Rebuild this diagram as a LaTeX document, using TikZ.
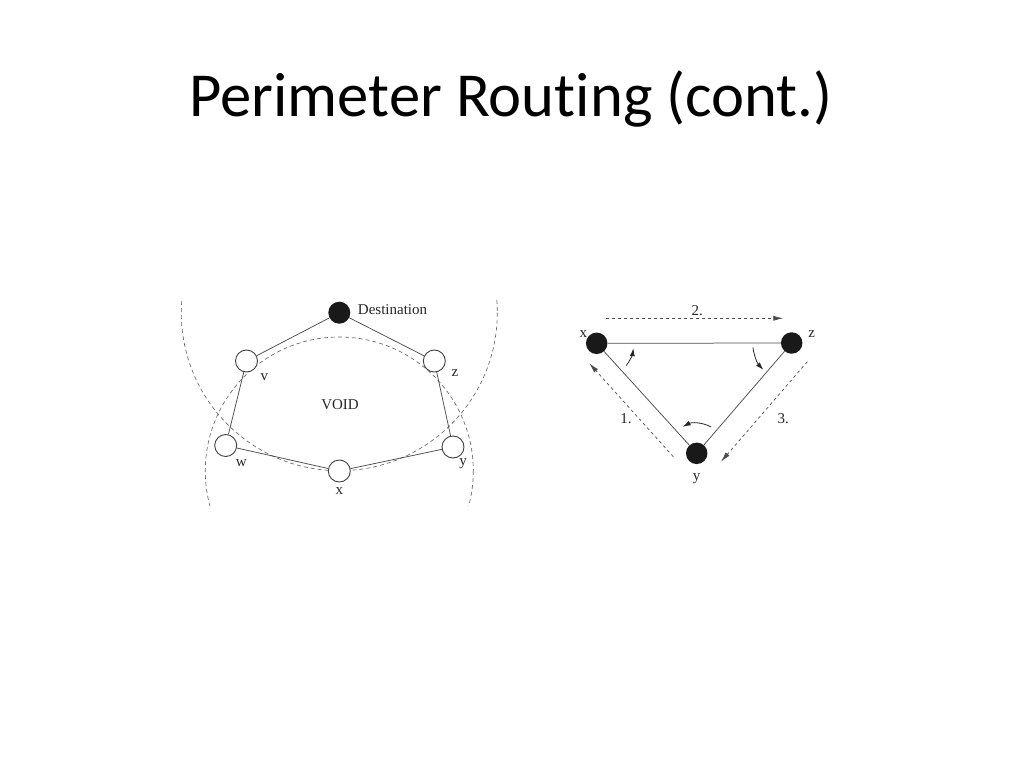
\documentclass[tikz,border=0pt]{standalone}
\usepackage{fontspec}
\setmainfont{Liberation Serif}
\newfontfamily\titlefont[Ligatures=NoCommon,Contextuals=NoAlternate]{Carlito}
\usetikzlibrary{arrows.meta,backgrounds}

\begin{document}
\begin{tikzpicture}[x=1pt,y=-1pt,
    vtx/.style={circle,draw=black!75,fill=white,line width=0.9pt,minimum size=22pt,inner sep=0pt},
    fvtx/.style={circle,fill=black!90,minimum size=21.5pt,inner sep=0pt},
    lbl/.style={font=\fontsize{15}{15}\selectfont,text=black!85,inner sep=0pt},
    link/.style={draw=black!70,line width=0.75pt},
    bound/.style={draw=black!60,line width=0.65pt,dash pattern=on 4pt off 3pt},
    move/.style={draw=black!70,line width=0.7pt,dash pattern=on 3pt off 3pt,-{Latex[length=10pt,width=5pt]}},
    turn/.style={draw=black!85,line width=0.8pt,-{Latex[length=8pt,width=5pt]}}]
  \useasboundingbox (0,0) rectangle (1024,768);

  \node[font=\titlefont\fontsize{62.6}{62.6}\selectfont,anchor=base] (title) at (511,116.7) {Perimeter Rout\kern0pt ing (cont.)};

  % the void
  \node[fvtx,minimum size=22pt] (dest) at (339.3,312.7) {};
  \node[vtx] (v) at (246.5,361) {};
  \node[vtx] (z) at (434.3,361) {};
  \node[vtx] (w) at (225.7,445.5) {};
  \node[vtx] (y) at (453,447) {};
  \node[vtx] (x) at (339.3,471) {};
  \begin{scope}[on background layer]
    \clip (150,298) rectangle (520,505);
    \draw[bound] (dest.center) circle[radius=158];
    \draw[bound] (x.center) circle[radius=134];
  \end{scope}
  \draw[link] (dest) -- (v) -- (w) -- (x) -- (y) -- (z) -- (dest);
  \node[lbl] (destlab) at (392.5,309.7) {Destination};
  \node[lbl] (voidlab) at (340,405) {VOID};
  \node[lbl] (vlab) at (264.3,377) {v};
  \node[lbl] (zlab) at (455,373.3) {z};
  \node[lbl] (wlab) at (241.3,463.5) {w};
  \node[lbl] (ylab) at (463,463.5) {y};
  \node[lbl] (xlab) at (339.3,491) {x};

  % right hand rule
  \node[fvtx] (rx) at (596.7,343.3) {};
  \node[fvtx] (rz) at (791.7,343) {};
  \node[fvtx] (ry) at (696.7,453.3) {};
  \draw[link] (rx) -- (rz) -- (ry) -- (rx);
  \node[lbl] (rxlab) at (583.3,334.3) {x};
  \node[lbl] (rzlab) at (811.7,334.3) {z};
  \node[lbl] (rylab) at (696.7,478.3) {y};

  \coordinate (s1) at (673.3,456.7);
  \coordinate (e1) at (589.3,363.3);
  \coordinate (s2) at (606,318.3);
  \coordinate (e2) at (783.3,318.3);
  \coordinate (s3) at (807.3,361.7);
  \coordinate (e3) at (721,461.7);
  \draw[move] (s1) -- (e1);
  \draw[move] (s2) -- (e2);
  \draw[move] (s3) -- (e3);
  \node[lbl] (one) at (626,418.3) {1.};
  \node[lbl] (two) at (697.3,310.7) {2.};
  \node[lbl] (three) at (783.3,418.3) {3.};

  \draw[turn] ([shift={(37:37)}]rx.center) arc (37:7.5:37);
  \draw[turn] ([shift={(173.6:39)}]rz.center) arc (173.6:136.4:39);
  \draw[turn] ([shift={(-61.7:30)}]ry.center) arc (-61.7:-117.8:30);
\end{tikzpicture}
\end{document}
